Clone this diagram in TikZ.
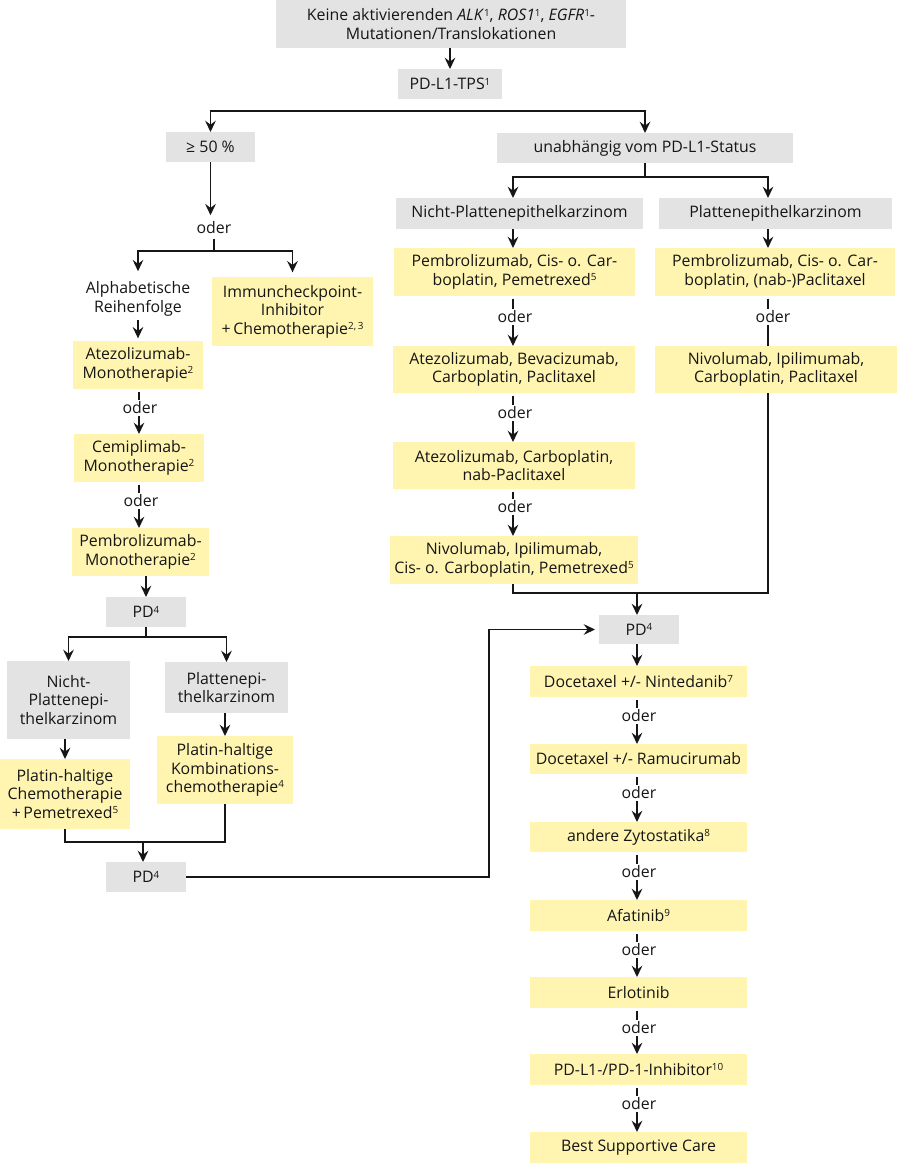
\documentclass[tikz,border=0pt]{standalone}
\usepackage{fontspec}
\setmainfont{Open Sans}
\usetikzlibrary{arrows.meta,calc}
\definecolor{gbg}{HTML}{E3E3E3}
\definecolor{ybg}{HTML}{FFF5B1}
\definecolor{ink}{HTML}{161616}
\newcommand\sups[1]{\raisebox{3.4pt}{\fontsize{7.4}{8}\selectfont #1}}
\begin{document}
\begin{tikzpicture}[x=0.75pt,y=-0.75pt,
  base/.style={inner sep=0pt, outer sep=0pt, align=center, text=ink, font=\fontsize{11.9}{13.8}\selectfont},
  rect/.style n args={4}{at={({(#1+#3)/2},{(#2+#4)/2})}, minimum width={(#3-#1)*0.75pt}, minimum height={(#4-#2)*0.75pt}},
  gbox/.style={base, fill=gbg},
  ybox/.style={base, fill=ybg},
  txt/.style={base},
  lbl/.style={base, inner sep=1.2pt, fill=white},
  conn/.style={draw=ink, line width=1pt, -{Stealth[length=8.5pt,width=8pt,inset=3pt]}},
  plain/.style={draw=ink, line width=1pt},
]
\useasboundingbox (0,0) rectangle (900,1163);
\fill[white] (0,0) rectangle (900,1163);

% ---------- gray boxes
\node[gbox, rect={276}{0}{626}{48}] (top) {Keine aktivierenden \textit{ALK}\sups{1}, \textit{ROS1}\sups{1}, \textit{EGFR}\sups{1}-\\Mutationen/Translokationen};
\node[gbox, rect={398}{69}{502}{99}] (tps) {PD-L1-TPS\sups{1}};
\node[gbox, rect={166}{132}{255}{162}] (ge50) {≥ 50 \%};
\node[gbox, rect={497}{133}{793}{163}] (unab) {unabhängig vom PD-L1-Status};
\node[gbox, rect={396}{198}{643}{229}] (nplR) {Nicht-Plattenepithelkarzinom};
\node[gbox, rect={659}{198}{892}{229}] (plR) {Plattenepithelkarzinom};
\node[gbox, rect={106}{597}{186}{627}] (pdL1) {PD\sups{4}};
\node[gbox, rect={7}{661}{130}{739}] (nplL) {Nicht-\\Plattenepi-\\thelkarzinom};
\node[gbox, rect={165}{662}{288}{713}] (plL) {Plattenepi-\\thelkarzinom};
\node[gbox, rect={106}{862}{186}{892}] (pdL2) {PD\sups{4}};
\node[gbox, rect={599}{615}{679}{644}] (pdR) {PD\sups{4}};

% ---------- yellow boxes, left
\node[ybox, rect={212}{277}{373}{346}] (ici) {Immuncheckpoint-\\Inhibitor\\+\,Chemotherapie\sups{2,\,3}};
\node[ybox, rect={73}{341}{203}{389}] (atezoM) {Atezolizumab-\\Monotherapie\sups{2}};
\node[ybox, rect={74}{434}{204}{482}] (cemiM) {Cemiplimab-\\Monotherapie\sups{2}};
\node[ybox, rect={72}{528}{209}{576}] (pembroM) {Pembrolizumab-\\Monotherapie\sups{2}};
\node[ybox, rect={0}{759}{130}{829}] (chemoL) {Platin-haltige\\Chemotherapie\\+\,Pemetrexed\sups{5}};
\node[ybox, rect={157}{736}{293}{804}] (kombL) {Platin-haltige\\Kombinations-\\chemotherapie\sups{4}};

% ---------- yellow boxes, right
\node[ybox, rect={394}{248}{635}{296}] (r1) {Pembrolizumab, Cis- o. Car-\\boplatin, Pemetrexed\sups{5}};
\node[ybox, rect={393}{346}{635}{393}] (r2) {Atezolizumab, Bevacizumab,\\Carboplatin, Paclitaxel};
\node[ybox, rect={393}{442}{635}{489}] (r3) {Atezolizumab, Carboplatin,\\nab-Paclitaxel};
\node[ybox, rect={390}{536}{638}{584}] (r4) {Nivolumab, Ipilimumab,\\Cis- o. Carboplatin, Pemetrexed\sups{5}};
\node[ybox, rect={655}{248}{895}{296}] (s1) {Pembrolizumab, Cis- o. Car-\\boplatin, (nab-)Paclitaxel};
\node[ybox, rect={655}{346}{897}{393}] (s2) {Nivolumab, Ipilimumab,\\Carboplatin, Paclitaxel};

% ---------- yellow boxes, bottom right
\node[ybox, rect={530}{666}{747}{697}] (b1) {Docetaxel +/- Nintedanib\sups{7}};
\node[ybox, rect={530}{744}{747}{774}] (b2) {Docetaxel +/- Ramucirumab};
\node[ybox, rect={530}{822}{747}{852}] (b3) {andere Zytostatika\sups{8}};
\node[ybox, rect={530}{900}{747}{931}] (b4) {Afatinib\sups{9}};
\node[ybox, rect={530}{977}{747}{1008}] (b5) {Erlotinib};
\node[ybox, rect={530}{1054}{747}{1085}] (b6) {PD-L1-/PD-1-Inhibitor\sups{10}};
\node[ybox, rect={530}{1132}{747}{1163}] (b7) {Best Supportive Care};

% ---------- plain texts
\node[txt] (o0) at (214,228) {oder};
\node[txt] (alph) at (138,299) {Alphabetische\\Reihenfolge};

% ---------- helper coordinates
\coordinate (sp1) at (450,111);
\coordinate (sp2) at (214,251);
\coordinate (sp3) at (145,637);
\coordinate (m1) at (143,842);
\coordinate (jx) at (489,0);
\coordinate (sp4) at (644,177);
\coordinate (colA) at (513,0);
\coordinate (colB) at (768,0);
\coordinate (colC) at (637,0);
\coordinate (colL) at (139,0);
\coordinate (m2) at (637,593);

% ---------- connectors
\draw[conn] (tps.north |- top.south) -- (tps.north);
\draw[conn] (sp1) -| (ge50.north);
\draw[conn] (sp1) -| (unab.north);
\draw[plain] (sp1 -| ge50.north) -- (sp1 -| unab.north);
\draw[conn, shorten >=5pt] (ge50.south) -- (ge50.south |- o0.north);
\draw[plain, shorten <=4pt] (o0.south) -- (o0.south |- sp2);
\draw[conn, shorten >=8pt] (sp2) -| (alph.north);
\draw[conn, shorten >=3.5pt] (sp2) -| (ici.north);
\draw[conn, shorten <=3pt, shorten >=2pt] (alph.south) -- (alph.south |- atezoM.north);

\draw[conn, shorten <=2pt] (colL |- atezoM.south) -- (colL |- cemiM.north);
\draw[conn, shorten <=2pt] (colL |- cemiM.south) -- (colL |- pembroM.north);
\draw[conn] (pembroM.south -| pdL1.north) -- (pdL1.north);
\draw[plain] (pdL1.south) -- (pdL1.south |- sp3);
\draw[conn] (sp3) -| (nplL.north);
\draw[conn] (sp3) -| (plL.north);
\draw[conn] (chemoL.north |- nplL.south) -- (chemoL.north);
\draw[conn] (kombL.north |- plL.south) -- (kombL.north);
\draw[plain] (chemoL.south) |- (kombL.south |- m1) -- (kombL.south);
\draw[conn] (m1) -- (m1 |- pdL2.north);
\draw[conn, shorten >=3pt] (pdL2.east) -| (jx |- pdR.west) -- (pdR.west);

\draw[plain] (unab.south) -- (unab.south |- sp4);
\draw[conn] (sp4) -| (colA |- nplR.north);
\draw[conn] (sp4) -| (colB |- plR.north);
\draw[conn] (colA |- nplR.south) -- (colA |- r1.north);
\draw[conn] (colB |- plR.south) -- (colB |- s1.north);
\draw[conn, shorten <=2pt] (colA |- r1.south) -- (colA |- r2.north);
\draw[conn, shorten <=2pt] (colA |- r2.south) -- (colA |- r3.north);
\draw[conn, shorten <=2pt] (colA |- r3.south) -- (colA |- r4.north);
\draw[plain, shorten <=2pt] (colB |- s1.south) -- (colB |- s2.north);
\draw[plain] (colA |- r4.south) |- (colB |- m2) -- (colB |- s2.south);
\draw[conn] (m2) -- (m2 |- pdR.north);

\draw[conn] (colC |- pdR.south) -- (colC |- b1.north);
\draw[conn, shorten <=2pt] (colC |- b1.south) -- (colC |- b2.north);
\draw[conn, shorten <=2pt] (colC |- b2.south) -- (colC |- b3.north);
\draw[conn, shorten <=2pt] (colC |- b3.south) -- (colC |- b4.north);
\draw[conn, shorten <=2pt] (colC |- b4.south) -- (colC |- b5.north);
\draw[conn, shorten <=2pt] (colC |- b5.south) -- (colC |- b6.north);
\draw[conn, shorten <=2pt] (colC |- b6.south) -- (colC |- b7.north);

% ---------- "oder" labels on the connectors
\node[lbl] (o1) at (140,408) {oder};
\node[lbl] (o2) at (141,501) {oder};
\node[lbl] (o3) at (515,317) {oder};
\node[lbl] (o4) at (515,413) {oder};
\node[lbl] (o5) at (515,507) {oder};
\node[lbl] (o6) at (773,317) {oder};
\node[lbl] (o7) at (639,716) {oder};
\node[lbl] (o8) at (639,793) {oder};
\node[lbl] (o9) at (639,872) {oder};
\node[lbl] (o10) at (639,950) {oder};
\node[lbl] (o11) at (639,1028) {oder};
\node[lbl] (o12) at (639,1104) {oder};
\end{tikzpicture}
\end{document}
